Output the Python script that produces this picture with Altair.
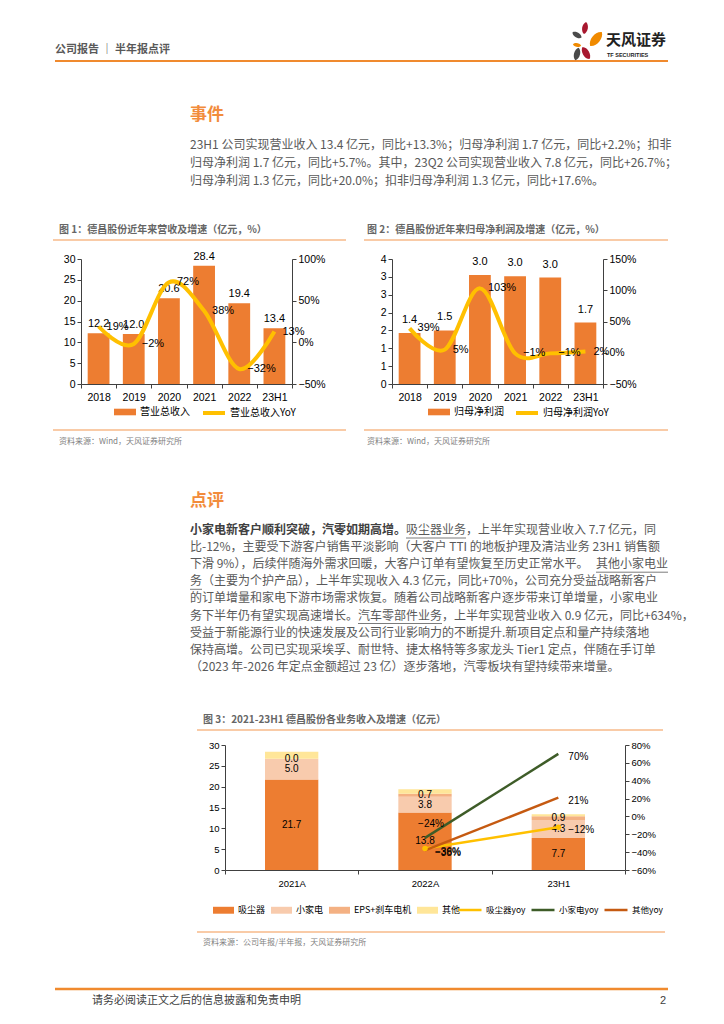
import altair as alt
import pandas as pd

CJK = "Noto Sans CJK SC"
LAT = "Liberation Sans"
GREY = "#595959"
ORANGE = "#F08A2E"
HEAD_ORANGE = "#F28C3C"
PEACH = "#F9CBA7"

# ---------------- data ----------------
years = ["2018", "2019", "2020", "2021", "2022", "23H1"]
revenue = [12.2, 12.0, 20.6, 28.4, 19.4, 13.4]
revenue_yoy = [0.19, -0.02, 0.72, 0.38, -0.32, 0.13]
profit = [1.43, 1.50, 3.05, 3.02, 2.98, 1.72]
profit_yoy = [0.39, 0.05, 1.03, -0.01, -0.01, 0.02]

cats3 = ["2021A", "2022A", "23H1"]
seg_names = ["吸尘器", "小家电", "EPS+刹车电机", "其他"]
seg_colors = ["#ED7D31", "#F8CBAD", "#F4B183", "#FFE699"]
vacuum = [21.7, 13.8, 7.7]
small_app = [5.0, 3.8, 4.3]
eps = [0.0, 0.7, 0.9]
others = [1.7, 1.1, 0.5]
yoy_names = ["吸尘器yoy", "小家电yoy", "其他yoy"]
yoy_colors = ["#FFC000", "#3E5C28", "#C55A11"]
vacuum_yoy = [None, -0.36, -0.12]
small_yoy = [None, -0.24, 0.70]
others_yoy = [None, -0.38, 0.21]

# ---------------- texts ----------------
header_left = "公司报告 ｜ 半年报点评"
logo_cn = "天风证券"
logo_en = "TF SECURITIES"
event_title = "事件"
event_lines = [
    "23H1 公司实现营业收入 13.4 亿元，同比+13.3%；归母净利润 1.7 亿元，同比+2.2%；扣非",
    "归母净利润 1.7 亿元，同比+5.7%。其中，23Q2 公司实现营业收入 7.8 亿元，同比+26.7%；",
    "归母净利润 1.3 亿元，同比+20.0%；扣非归母净利润 1.3 亿元，同比+17.6%。",
]
fig1_title = "图 1：德昌股份近年来营收及增速（亿元，%）"
fig2_title = "图 2：德昌股份近年来归母净利润及增速（亿元，%）"
fig3_title = "图 3：2021-23H1 德昌股份各业务收入及增速（亿元）"
source12 = "资料来源：Wind，天风证券研究所"
source3 = "资料来源：公司年报/半年报，天风证券研究所"
review_title = "点评"
review_lines = [
    [("小家电新客户顺利突破，汽零如期高增。", "b"), ("吸尘器业务", "u"), ("，上半年实现营业收入 7.7 亿元，同", "n")],
    [("比-12%，主要受下游客户销售平淡影响（大客户 TTI 的地板护理及清洁业务 23H1 销售额", "n")],
    [("下滑 9%），后续伴随海外需求回暖，大客户订单有望恢复至历史正常水平。", "n"), ("其他小家电业", "ur")],
    [("务", "u"), ("（主要为个护产品），上半年实现收入 4.3 亿元，同比+70%，公司充分受益战略新客户", "n")],
    [("的订单增量和家电下游市场需求恢复。随着公司战略新客户逐步带来订单增量，小家电业", "n")],
    [("务下半年仍有望实现高速增长。", "n"), ("汽车零部件业务", "u"), ("，上半年实现营业收入 0.9 亿元，同比+634%，", "n")],
    [("受益于新能源行业的快速发展及公司行业影响力的不断提升.新项目定点和量产持续落地", "n")],
    [("保持高增。公司已实现采埃孚、耐世特、捷太格特等多家龙头 Tier1 定点，伴随在手订单", "n")],
    [("（2023 年-2026 年定点金额超过 23 亿）逐步落地，汽零板块有望持续带来增量。", "n")],
]
footer_text = "请务必阅读正文之后的信息披露和免责申明"
page_no = "2"

one = pd.DataFrame({"k": [0]})
PAGE_W = 708
NOVIEW = alt.ViewBackground(stroke="transparent", strokeWidth=0, strokeOpacity=0)


# ---------------- helpers for page text ----------------
def mk(oy):
    def label(s, x, y, size=12, color=GREY, weight="normal", align="left", font=CJK):
        return alt.Chart(one).mark_text(
            text=s, align=align, baseline="middle", fontSize=size,
            color=color, fontWeight=weight, font=font
        ).encode(x=alt.value(x - 8), y=alt.value(y - oy))

    def rule(x1, x2, y, color, w):
        return alt.Chart(one).mark_rule(color=color, strokeWidth=w).encode(
            x=alt.value(x1 - 8), x2=alt.value(x2 - 8), y=alt.value(y - oy)
        )

    def petal(x, y, size, angle, color):
        return alt.Chart(one).mark_point(
            shape="M0,-1C0.62,-0.6 0.62,0.6 0,1C-0.62,0.6 -0.62,-0.6 0,-1Z",
            filled=True, size=size, angle=angle, color=color, opacity=1, strokeWidth=0
        ).encode(x=alt.value(x - 8), y=alt.value(y - oy))

    return label, rule, petal


# ---- panel 1 (page y 8 -> 259) ----
label, rule, petal = mk(8)
p1 = [
    label(header_left, 55, 50, size=11, weight="bold", color=GREY),
    rule(55, 668, 61, ORANGE, 2),
    petal(585, 28, 150, 10, "#A8182F"),
    petal(596, 39, 330, 40, "#F08A00"),
    petal(577, 35, 110, 300, "#4A4A4A"),
    petal(577, 45, 70, 280, "#F08A00"),
    petal(586, 53, 200, 330, "#A8182F"),
    petal(577, 54, 170, 15, "#4A4A4A"),
    label(logo_cn, 606, 40, size=15, weight="bold", color="#222222"),
    label(logo_en, 607, 55, size=5.5, weight="bold", color="#222222", font=LAT),
    label(event_title, 190, 115, size=17, weight="bold", color=HEAD_ORANGE),
]
for i, s in enumerate(event_lines):
    p1.append(label(s, 190, 145 + 18 * i, size=12))
p1 += [
    label(fig1_title, 59, 230, size=10, weight="bold", color="#666666"),
    label(fig2_title, 367, 230, size=10, weight="bold", color="#666666"),
    rule(53, 346, 240, PEACH, 2),
    rule(364, 668, 240, PEACH, 2),
]
panel1 = alt.layer(*p1).properties(width=PAGE_W, height=251, view=NOVIEW)

# ---- panel 2 (page y 259 -> 745; overlaps the figure row, which takes no height) ----
label, rule, petal = mk(259)
FS = 12
p2 = [
    rule(53, 346, 430, PEACH, 2),
    rule(364, 668, 430, PEACH, 2),
    label(source12, 59, 442, size=8, color="#7F7F7F"),
    label(source12, 367, 442, size=8, color="#7F7F7F"),
    label(review_title, 190, 501, size=17, weight="bold", color=HEAD_ORANGE),
]
for i, segs in enumerate(review_lines):
    y = 530 + 17.1 * i
    cx = 190
    for s, st in segs:
        if st == "ur":
            p2.append(label(s, 668, y, size=FS, align="right"))
            p2.append(rule(668 - len(s) * FS, 668, y + 8, GREY, 0.8))
            continue
        if st == "b":
            p2.append(label(s, cx, y, size=FS, weight="bold", color="#404040"))
        else:
            p2.append(label(s, cx, y, size=FS))
        if st == "u":
            p2.append(rule(cx, cx + len(s) * FS, y + 8, GREY, 0.8))
        cx += len(s) * FS
p2 += [
    label(fig3_title, 203, 720, size=10, weight="bold", color="#666666"),
    rule(197, 663, 730, PEACH, 2),
]
panel2 = alt.layer(*p2).properties(width=PAGE_W, height=486, view=NOVIEW)

# ---- panel 3 (page y 745 -> 1016) ----
label, rule, petal = mk(745)
p3 = [
    rule(197, 665, 932, PEACH, 2),
    label(source3, 203, 943, size=8, color="#7F7F7F"),
    rule(55, 668, 989, ORANGE, 2.5),
    label(footer_text, 92, 1001, size=11, color="#404040"),
    label(page_no, 666, 1001, size=11, color="#404040", align="right", font=LAT),
]
panel3 = alt.layer(*p3).properties(width=PAGE_W, height=271, view=NOVIEW)


def spacer(w, h):
    return alt.Chart(one).mark_text(text="").encode(
        x=alt.value(0), y=alt.value(0)
    ).properties(width=w, height=h, view=NOVIEW)


AX = dict(title=None, grid=False, domainColor="#404040", tickColor="#404040",
          tickSize=4, labelColor="#000000", labelFont=LAT, labelFontSize=10.5,
          labelPadding=2)


def dual_chart(vals, yoys, bar_name, line_name, ldomain, lvals, lformat,
               rdomain, rvals, bar_dy, legx_fill, legx_line):
    df = pd.DataFrame({"cat": years, "bar": vals, "yoy": yoys,
                       "bname": bar_name, "lname": line_name})
    x = alt.X("cat:N", scale=alt.Scale(domain=years, paddingInner=0, paddingOuter=0),
              axis=alt.Axis(labelAngle=0, tickBand="extent", **{**AX, "labelPadding": 4}))
    yL = alt.Y("bar:Q", scale=alt.Scale(domain=ldomain, nice=False),
               axis=alt.Axis(orient="left", values=lvals, format=lformat, **AX))
    yR = alt.Y("yoy:Q", scale=alt.Scale(domain=rdomain, nice=False),
               axis=alt.Axis(orient="right", values=rvals, format=".0%", **AX))
    base = alt.Chart(df).encode(x=x)
    bars = base.mark_bar(width=alt.RelativeBandSize(0.62)).encode(
        y=yL,
        color=alt.Color("bname:N", scale=alt.Scale(domain=[bar_name], range=["#ED7D31"]),
                        legend=alt.Legend(orient="none", legendX=legx_fill, legendY=141,
                                          title=None, direction="horizontal",
                                          symbolType="M-1,-0.3H1V0.3H-1Z", symbolSize=484,
                                          labelFont=CJK, labelFontSize=10,
                                          labelColor="#000000", padding=0, labelOffset=3)),
    )
    blab = base.mark_text(baseline="bottom", dy=bar_dy, font=LAT, fontSize=11,
                          color="#000000").encode(y=yL, text=alt.Text("bar:Q", format=".1f"))
    line = base.mark_line(interpolate="cardinal", strokeWidth=4).encode(
        y=yR,
        stroke=alt.Stroke("lname:N", scale=alt.Scale(domain=[line_name], range=["#FFC000"]),
                          legend=alt.Legend(orient="none", legendX=legx_line, legendY=141,
                                            title=None, direction="horizontal",
                                            symbolType="stroke", symbolSize=484,
                                            symbolStrokeWidth=4,
                                            labelFont=CJK, labelFontSize=10,
                                            labelColor="#000000", padding=0, labelOffset=3)),
    )
    llab = base.mark_text(align="left", dx=8, baseline="middle", font=LAT, fontSize=11,
                          color="#000000").encode(y=yR, text=alt.Text("yoy:Q", format=".0%"))
    return alt.layer(alt.layer(bars, blab), alt.layer(line, llab)).resolve_scale(
        y="independent").properties(width=211, height=125, view=NOVIEW)


fig1 = dual_chart(revenue, revenue_yoy, "营业总收入", "营业总收入YoY",
                  [0, 30], [0, 5, 10, 15, 20, 25, 30], "d",
                  [-0.5, 1.0], [-0.5, 0, 0.5, 1.0], -4, 32, 120)
fig2 = dual_chart(profit, profit_yoy, "归母净利润", "归母净利润YoY",
                  [0, 3.5], [0, 0.5, 1, 1.5, 2, 2.5, 3, 3.5], ".0f",
                  [-0.5, 1.5], [-0.5, 0, 0.5, 1.0, 1.5], -8, 35, 122)

row2 = alt.hconcat(spacer(73, 125), fig1, spacer(100, 125), fig2, spacer(113, 125),
                   spacing=0, bounds="flush").resolve_scale(color="independent",
                                                            stroke="independent")

# ---- figure 3 ----
seg_vals = [vacuum, small_app, eps, others]
bar_rows = []
for i, c in enumerate(cats3):
    for j, nm in enumerate(seg_names):
        bar_rows.append({"cat": c, "series": nm, "value": seg_vals[j][i], "order": j})
bars_df = pd.DataFrame(bar_rows)
yoy_vals = [vacuum_yoy, small_yoy, others_yoy]
line_rows = []
for j, nm in enumerate(yoy_names):
    for i, c in enumerate(cats3):
        if yoy_vals[j][i] is not None:
            line_rows.append({"cat": c, "series": nm, "yoy": yoy_vals[j][i]})
lines_df = pd.DataFrame(line_rows)

AX3 = {**AX, "labelFontSize": 9.5}
x3 = alt.X("cat:N", scale=alt.Scale(domain=cats3, paddingInner=0, paddingOuter=0),
           axis=alt.Axis(labelAngle=0, tickBand="extent", **{**AX3, "labelPadding": 4}))
yscale3 = alt.Scale(domain=[0, 30], nice=False)
yaxis3 = alt.Axis(orient="left", values=[0, 5, 10, 15, 20, 25, 30], **AX3)
yR3 = alt.Y("yoy:Q", scale=alt.Scale(domain=[-0.6, 0.8], nice=False),
            axis=alt.Axis(orient="right", values=[-0.6, -0.4, -0.2, 0, 0.2, 0.4, 0.6, 0.8],
                          format=".0%", **AX3))

bars3 = alt.Chart(bars_df).mark_bar(width=alt.RelativeBandSize(0.4)).encode(
    x=x3,
    y=alt.Y("value:Q", stack="zero", scale=yscale3, axis=yaxis3),
    color=alt.Color("series:N", scale=alt.Scale(domain=seg_names, range=seg_colors),
                    legend=alt.Legend(orient="none", legendX=-13, legendY=153.5, title=None,
                                      direction="horizontal", columns=4,
                                      symbolType="M-1,-0.33H1V0.33H-1Z", symbolSize=441,
                                      labelFont=CJK, labelFontSize=9, labelColor="#000000",
                                      padding=0, labelOffset=3, columnPadding=4)),
    order=alt.Order("order:Q", sort="ascending"),
)
blab3 = alt.Chart(bars_df).transform_stack(
    stack="value", groupby=["cat"], as_=["v0", "v1"],
    sort=[alt.SortField("order", order="ascending")]
).transform_calculate(mid="(datum.v0 + datum.v1) / 2").transform_filter(
    "datum.series != '其他'"
).mark_text(font=LAT, fontSize=10, color="#000000", baseline="middle").encode(
    x=x3, y=alt.Y("mid:Q", scale=yscale3, axis=yaxis3),
    text=alt.Text("value:Q", format=".1f"),
)
lines3 = alt.Chart(lines_df).mark_line(strokeWidth=2.5).encode(
    x=x3, y=yR3,
    stroke=alt.Stroke("series:N", scale=alt.Scale(domain=yoy_names, range=yoy_colors),
                      legend=alt.Legend(orient="none", legendX=232, legendY=152, title=None,
                                        direction="horizontal", columns=3,
                                        symbolType="stroke", symbolSize=529,
                                        symbolStrokeWidth=2.5,
                                        labelFont=CJK, labelFontSize=8.5, labelColor="#000000",
                                        padding=0, labelOffset=3, columnPadding=0)),
)
pts3 = alt.Chart(lines_df).transform_filter("datum.series == '吸尘器yoy'").mark_point(
    filled=True, size=30, color="#FFC000", opacity=1
).encode(x=x3, y=yR3)
llab3 = alt.Chart(lines_df).transform_filter(
    "!(datum.series == '小家电yoy' && datum.cat == '2022A')"
).mark_text(align="left", dx=10, dy=3, font=LAT, fontSize=10, color="#000000",
            baseline="middle").encode(x=x3, y=yR3, text=alt.Text("yoy:Q", format=".0%"))
llab3b = alt.Chart(lines_df).transform_filter(
    "datum.series == '小家电yoy' && datum.cat == '2022A'"
).mark_text(align="center", dx=6, dy=-14, font=LAT, fontSize=10, color="#000000",
            baseline="middle").encode(x=x3, y=yR3, text=alt.Text("yoy:Q", format=".0%"))

fig3 = alt.layer(alt.layer(bars3, blab3), alt.layer(lines3, pts3, llab3, llab3b)).resolve_scale(
    y="independent").properties(width=400, height=125, view=NOVIEW)

row4 = alt.hconcat(spacer(217, 125), fig3, spacer(91, 125), spacing=0,
                   bounds="flush").resolve_scale(color="independent", stroke="independent")

chart = alt.vconcat(panel1, row2, panel2, row4, panel3, spacing=0, bounds="flush",
                    padding=0).resolve_scale(
    color="independent", stroke="independent"
).configure_view(stroke="transparent", strokeWidth=0, strokeOpacity=0).configure(font=CJK)

chart.save("out.html", embed_options={"renderer": "svg", "actions": False})
